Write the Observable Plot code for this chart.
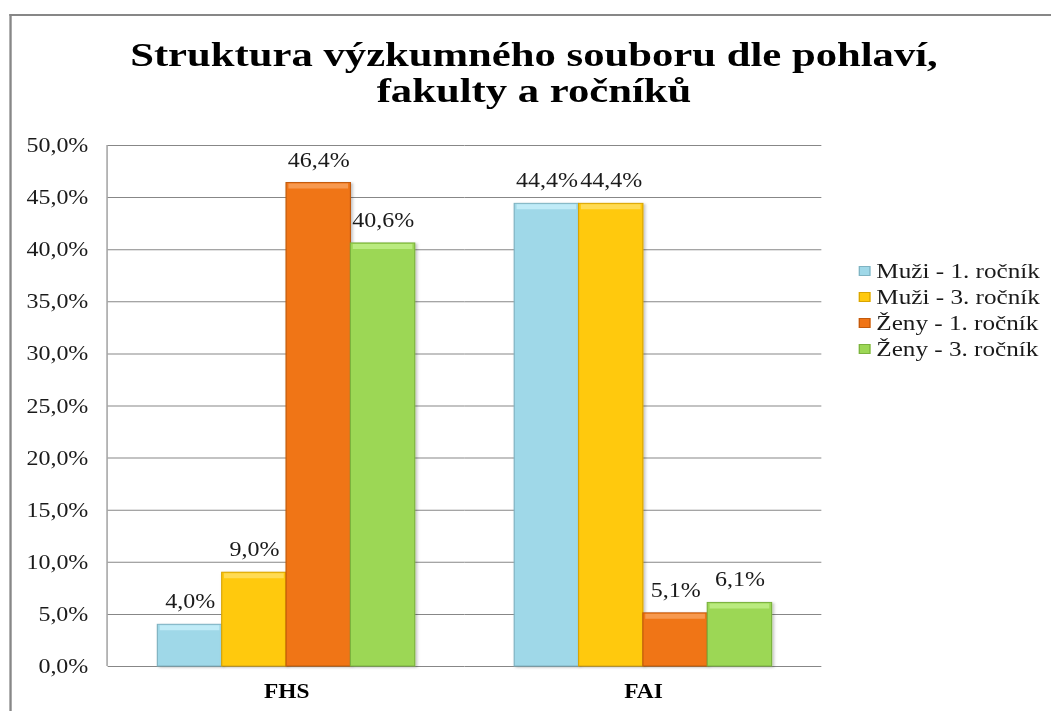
<!DOCTYPE html>
<html>
<head>
<meta charset="utf-8">
<script src="https://cdn.jsdelivr.net/npm/d3@7"></script>
<script src="https://cdn.jsdelivr.net/npm/@observablehq/plot@0.6"></script>
<style>
  html, body { margin: 0; padding: 0; background: #fff; overflow: hidden; }
  #wrap { position: relative; width: 898px; height: 711px; transform: scaleX(1.17); transform-origin: 0 0; font-family: "Liberation Serif", "Times New Roman", serif; color: #1a1a1a; }
  #frame { position: absolute; left: 7.7px; top: 14px; width: 2000px; height: 2000px; border-top: 2px solid #878787; border-left: 2px solid #878787; box-sizing: border-box; }
  #title { position: relative; height: 125px; box-sizing: border-box; padding-top: 36.5px; width: 912.8px; text-align: center; font-weight: bold; font-size: 34px; line-height: 36px; color: #000; transform: scaleX(1.073); transform-origin: 456.4px 0; }
  #chart { position: absolute; left: 0; top: 125px; }
  #legend { position: absolute; left: 734px; top: 0; }
  .row { position: absolute; left: 0; white-space: nowrap; font-size: 21.5px; line-height: 26px; height: 26px; display: flex; align-items: center; }
  .sw { width: 10px; height: 10px; box-sizing: border-box; margin-right: 5px; }
</style>
</head>
<body>
<div id="wrap">
  <div id="frame"></div>
  <div id="title">Struktura výzkumného souboru dle pohlaví,<br>fakulty a ročníků</div>
  <div id="chart"></div>
  <div id="legend"></div>
</div>
<script>
const categories = ["FHS", "FAI"];
const series = ["Muži - 1. ročník", "Muži - 3. ročník", "Ženy - 1. ročník", "Ženy - 3. ročník"];
const fhsValues = [4.0, 9.0, 46.4, 40.6];
const faiValues = [44.4, 44.4, 5.1, 6.1];
const colors = ["#9fd8e8", "#ffc90e", "#f07415", "#9cd755"];
const strokes = ["#7fb3c2", "#d9a400", "#c25a0c", "#7bb23e"];
const highlights = ["#c8f0fa", "#ffe066", "#f9a25e", "#c2f08a"];
const yTicks = [0, 5, 10, 15, 20, 25, 30, 35, 40, 45, 50];
const legendRowY = [271, 297, 323, 349];

const valuesByCategory = [fhsValues, faiValues];
const data = categories.flatMap((c, i) =>
  series.map((s, j) => ({ category: c, series: s, value: valuesByCategory[i][j] }))
);
const fmt = v => v.toFixed(1).replace(".", ",") + "%";
const idx = d => series.indexOf(d.series);

const chart = Plot.plot({
  width: 898,
  height: 586,
  marginLeft: 91.5,
  marginRight: 195.4,
  marginTop: 20,
  marginBottom: 45,
  style: { fontFamily: "Liberation Serif, Times New Roman, serif", fontSize: "20.5px", color: "#1a1a1a", background: "transparent", overflow: "visible" },
  fx: { domain: categories, padding: 0, label: null },
  x: { domain: series, axis: null, paddingInner: 0, paddingOuter: 0.75 },
  y: { domain: [0, 50], label: null },
  color: { domain: series, range: colors },
  marks: [
    Plot.gridY(yTicks, { stroke: "#878787", strokeOpacity: 1, strokeWidth: 1 }),
    Plot.axisY(yTicks, { tickSize: 0, tickPadding: 17, tickFormat: fmt, label: null, fontSize: 20.5, fill: "#1a1a1a" }),
    Plot.axisFx({ anchor: "bottom", tickSize: 0, tickPadding: 17, label: null, fontSize: 20, fontWeight: "bold", fill: "#000" }),
    Plot.barY(data, {
      fx: "category", x: "series", y: "value", fill: "series",
      stroke: d => strokes[idx(d)], strokeWidth: 1
    }),
    // light bevel strip along the top of each bar
    Plot.tickY(data, {
      fx: "category", x: "series", y: "value",
      stroke: d => highlights[idx(d)], strokeWidth: 5, dy: 3, insetLeft: 2, insetRight: 2, strokeOpacity: 0.8
    }),
    Plot.text(data, { fx: "category", x: "series", y: "value", text: d => fmt(d.value), dy: -23, fontSize: 20.5, fill: "#1a1a1a" })
  ]
});

document.getElementById("chart").appendChild(chart);

// vertical axis line at the left edge of the plot area, from the y scale range
const ys = chart.scale("y");
const svg = d3.select(chart);
svg.append("line")
  .attr("x1", 91.5).attr("x2", 91.5)
  .attr("y1", ys.range[0]).attr("y2", ys.range[1])
  .attr("stroke", "#878787").attr("stroke-width", 1);

// subtle shadow on bars
const defs = svg.insert("defs", ":first-child");
const f = defs.append("filter").attr("id", "bev").attr("x", "-10%").attr("y", "-10%").attr("width", "130%").attr("height", "130%");
f.append("feDropShadow").attr("dx", 1.5).attr("dy", 1).attr("stdDeviation", 1.2).attr("flood-color", "#000").attr("flood-opacity", 0.25);
svg.selectAll("g[aria-label='bar'] rect").attr("filter", "url(#bev)");

// legend
const legend = document.getElementById("legend");
series.forEach((s, i) => {
  const row = document.createElement("div");
  row.className = "row";
  row.style.top = (legendRowY[i] - 13) + "px";
  const sw = document.createElement("span");
  sw.className = "sw";
  sw.style.background = colors[i];
  sw.style.border = "1px solid " + strokes[i];
  const t = document.createElement("span");
  t.textContent = s;
  row.appendChild(sw);
  row.appendChild(t);
  legend.appendChild(row);
});
</script>
</body>
</html>
